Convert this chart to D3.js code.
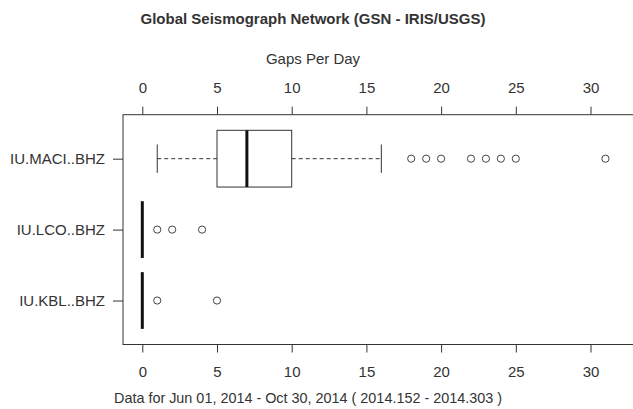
<!DOCTYPE html>
<html>
<head>
<meta charset="utf-8">
<script src="https://cdn.jsdelivr.net/npm/d3@7"></script>
<style>
  body { margin: 0; background: #fff; }
  svg text { font-family: "Liberation Sans", Arial, sans-serif; fill: #333; }
  .title { font-weight: bold; }
</style>
</head>
<body>
<svg id="chart" width="633" height="409"></svg>
<script>
// stations, bottom to top
var stations = ["IU.KBL..BHZ", "IU.LCO..BHZ", "IU.MACI..BHZ"];
var lowWhisker = [0, 0, 1];
var q1 = [0, 0, 5];
var median = [0, 0, 7];
var q3 = [0, 0, 10];
var highWhisker = [0, 0, 16];
var outliers = [[1, 5], [1, 2, 4], [18, 19, 20, 22, 23, 24, 25, 31]];
var xTicks = [0, 5, 10, 15, 20, 25, 30];

var boxes = stations.map(function(s, i) {
    return {name: s, pos: i + 1, lo: lowWhisker[i], q1: q1[i], med: median[i],
            q3: q3[i], hi: highWhisker[i], out: outliers[i]};
});

var svg = d3.select("#chart");

// plot region (right side runs off the picture)
var plotLeft = 123, plotRight = 645, plotTop = 114.7, plotBottom = 344.5;

var scaleX = d3.scaleLinear().domain([0, 30]).range([142.3, 590.5]);
var scaleY = d3.scaleLinear().domain([0.38, 3.62]).range([plotBottom, plotTop]);

// frame
svg.append("rect")
    .attr("x", plotLeft).attr("y", plotTop)
    .attr("width", plotRight - plotLeft).attr("height", plotBottom - plotTop)
    .attr("fill", "none").attr("stroke", "#333").attr("stroke-width", 1);

// top and bottom axes
var topAxis = d3.axisTop(scaleX).tickValues(xTicks).tickSize(8).tickPadding(14);
var bottomAxis = d3.axisBottom(scaleX).tickValues(xTicks).tickSize(8).tickPadding(14);

[svg.append("g").attr("transform", "translate(0," + plotTop + ")").call(topAxis),
 svg.append("g").attr("transform", "translate(0," + plotBottom + ")").call(bottomAxis)]
    .forEach(function(g) {
        g.select(".domain").remove();
        g.selectAll(".tick line").attr("stroke", "#333");
        g.selectAll(".tick text").style("font-size", "15px").attr("fill", "#333");
    });

// left axis with station names
var leftAxis = d3.axisLeft(scaleY).tickValues(boxes.map(function(d) { return d.pos }))
    .tickFormat(function(d) { return stations[d - 1] })
    .tickSize(10).tickPadding(8);
var gy = svg.append("g").attr("transform", "translate(" + plotLeft + ",0)").call(leftAxis);
gy.select(".domain").remove();
gy.selectAll(".tick line").attr("stroke", "#333");
gy.selectAll(".tick text").style("font-size", "15px").attr("fill", "#333");

// boxes
var bw = 0.4;
var g = svg.selectAll(".box").data(boxes).enter().append("g").attr("class", "box");

// whiskers + box, only where there is spread
g.filter(function(d) { return d.hi > d.lo }).each(function(d) {
    var sel = d3.select(this);
    [[d.lo, d.q1], [d.q3, d.hi]].forEach(function(p) {
        sel.append("line")
            .attr("x1", scaleX(p[0])).attr("x2", scaleX(p[1]))
            .attr("y1", scaleY(d.pos)).attr("y2", scaleY(d.pos))
            .attr("stroke", "#333").attr("stroke-dasharray", "4,3");
    });
    [d.lo, d.hi].forEach(function(v) {
        sel.append("line")
            .attr("x1", scaleX(v)).attr("x2", scaleX(v))
            .attr("y1", scaleY(d.pos - bw / 2)).attr("y2", scaleY(d.pos + bw / 2))
            .attr("stroke", "#333");
    });
    sel.append("rect")
        .attr("x", scaleX(d.q1)).attr("width", scaleX(d.q3) - scaleX(d.q1))
        .attr("y", scaleY(d.pos + bw)).attr("height", scaleY(d.pos - bw) - scaleY(d.pos + bw))
        .attr("fill", "#fff").attr("stroke", "#333");
});

// medians
g.append("line")
    .attr("x1", function(d) { return scaleX(d.med) })
    .attr("x2", function(d) { return scaleX(d.med) })
    .attr("y1", function(d) { return scaleY(d.pos + bw) })
    .attr("y2", function(d) { return scaleY(d.pos - bw) })
    .attr("stroke", "#111").attr("stroke-width", 3);

// outliers
g.selectAll("circle")
    .data(function(d) { return d.out.map(function(v) { return {v: v, pos: d.pos} }) })
    .enter().append("circle")
    .attr("cx", function(d) { return scaleX(d.v) })
    .attr("cy", function(d) { return scaleY(d.pos) })
    .attr("r", 3.6)
    .attr("fill", "none").attr("stroke", "#444").attr("stroke-width", 1);

// titles
svg.append("text").attr("class", "title")
    .attr("x", 313).attr("y", 24).attr("text-anchor", "middle")
    .style("font-size", "15px")
    .text("Global Seismograph Network (GSN - IRIS/USGS)");

svg.append("text")
    .attr("x", 313).attr("y", 64).attr("text-anchor", "middle")
    .style("font-size", "15px")
    .text("Gaps Per Day");

svg.append("text")
    .attr("x", 308).attr("y", 403).attr("text-anchor", "middle")
    .style("font-size", "14.4px")
    .text("Data for Jun 01, 2014 - Oct 30, 2014 ( 2014.152 - 2014.303 )");
</script>
</body>
</html>
